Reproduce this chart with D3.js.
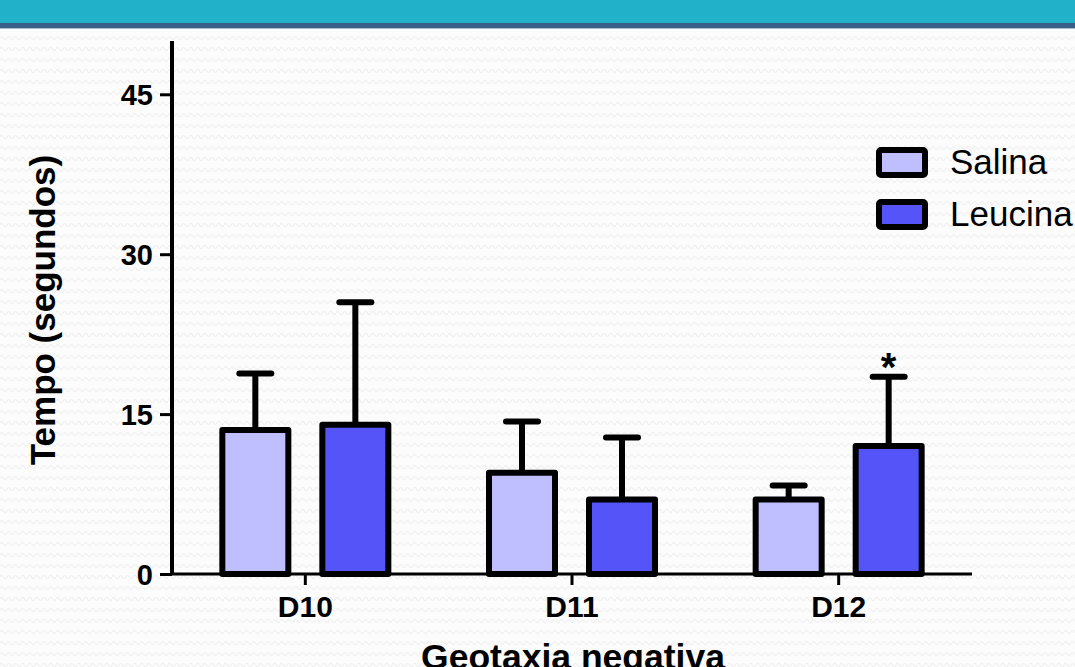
<!DOCTYPE html>
<html>
<head>
<meta charset="utf-8">
<script src="https://cdn.jsdelivr.net/npm/d3@7"></script>
<style>
  html, body { margin: 0; padding: 0; background: #fafafa; }
  svg { display: block; }
</style>
</head>
<body>
<svg id="chart" width="1075" height="667"></svg>
<script>
// Geotaxia negativa: climbing time per day, saline vs leucine
const days = ["D10", "D11", "D12"];
const groups = ["Salina", "Leucina"];
const salinaMean = [13.5, 9.5, 7.0];
const salinaErr  = [5.3, 4.8, 1.3];
const leucinaMean = [14.0, 7.0, 12.0];
const leucinaErr  = [11.5, 5.8, 6.5];
const yTicks = [0, 15, 30, 45];
const significance = ["", "", "*"]; // leucina vs salina
const colors = { Salina: "#bfbfff", Leucina: "#5454f8" };

const svg = d3.select("#chart");
const W = 1075, H = 667;
const FONT = "Liberation Sans, Arial, sans-serif";

// background texture and header band
const defs = svg.append("defs");
const pat = defs.append("pattern")
  .attr("id", "wave").attr("width", 7).attr("height", 11)
  .attr("patternUnits", "userSpaceOnUse");
pat.append("rect").attr("width", 7).attr("height", 11).attr("fill", "#fcfcfc");
pat.append("path").attr("d", "M0,5 Q1.75,2 3.5,5 T7,5")
  .attr("fill", "none").attr("stroke", "#efefef").attr("stroke-width", 1.2);
svg.append("rect").attr("width", W).attr("height", H).attr("fill", "url(#wave)");
svg.append("rect").attr("x", 0).attr("y", 0).attr("width", W).attr("height", 23).attr("fill", "#21b1c9");
svg.append("rect").attr("x", 0).attr("y", 23).attr("width", W).attr("height", 5).attr("fill", "#3a5f89");
svg.append("rect").attr("x", 0).attr("y", 28).attr("width", W).attr("height", 1).attr("fill", "#a8bccf");

const x0 = 172, x1 = 972, yBase = 574, yTop = 41;
const x = d3.scaleBand().domain(days).range([x0, x1]).padding(0);
const y = d3.scaleLinear().domain([0, 50]).range([yBase, yTop]);
const xg = d3.scaleBand().domain(groups).range([-83, 83]).paddingInner(0.34).paddingOuter(0);

const rows = days.map((d, i) => ({
  day: d,
  sig: significance[i],
  bars: [
    { g: "Salina", v: salinaMean[i], e: salinaErr[i] },
    { g: "Leucina", v: leucinaMean[i], e: leucinaErr[i] }
  ]
}));

const bw = xg.bandwidth();
const capW = 36;

const dayG = svg.append("g").selectAll("g").data(rows).join("g")
  .attr("transform", d => `translate(${x(d.day) + x.bandwidth() / 2},0)`);

const barG = dayG.selectAll("g.bar").data(d => d.bars).join("g").attr("class", "bar");

// error bars (upper only)
barG.append("line")
  .attr("x1", d => xg(d.g) + bw / 2).attr("x2", d => xg(d.g) + bw / 2)
  .attr("y1", d => y(d.v)).attr("y2", d => y(d.v + d.e))
  .attr("stroke", "#000").attr("stroke-width", 6);
barG.append("line")
  .attr("x1", d => xg(d.g) + bw / 2 - capW / 2 + 2).attr("x2", d => xg(d.g) + bw / 2 + capW / 2 - 2)
  .attr("y1", d => y(d.v + d.e)).attr("y2", d => y(d.v + d.e))
  .attr("stroke", "#000").attr("stroke-width", 6).attr("stroke-linecap", "round");

barG.append("rect")
  .attr("x", d => xg(d.g))
  .attr("y", d => y(d.v))
  .attr("width", bw)
  .attr("height", d => yBase - y(d.v))
  .attr("fill", d => colors[d.g])
  .attr("stroke", "#000").attr("stroke-width", 6).attr("stroke-linejoin", "round");

// significance marker above leucina error bar
dayG.filter(d => d.sig).append("text")
  .attr("x", d => xg("Leucina") + bw / 2)
  .attr("y", d => y(d.bars[1].v + d.bars[1].e) + 4)
  .attr("text-anchor", "middle")
  .attr("font-family", FONT)
  .attr("font-size", 40).attr("font-weight", "bold")
  .text(d => d.sig);

// y axis
const yAxis = svg.append("g").attr("transform", `translate(${x0},0)`)
  .call(d3.axisLeft(y).tickValues(yTicks).tickSize(12).tickPadding(7).tickSizeOuter(0));
yAxis.select(".domain").attr("stroke", "#000").attr("stroke-width", 4).attr("d", `M0,${yTop}V${yBase + 1}`);
yAxis.selectAll(".tick line").attr("stroke", "#000").attr("stroke-width", 3);
yAxis.selectAll(".tick text")
  .attr("font-family", FONT)
  .attr("font-size", 29).attr("font-weight", "bold").attr("fill", "#000")
  .attr("dy", "0.36em");

// x axis
const xAxis = svg.append("g").attr("transform", `translate(0,${yBase})`)
  .call(d3.axisBottom(x).tickSize(11).tickPadding(11).tickSizeOuter(0));
xAxis.select(".domain").attr("stroke", "#000").attr("stroke-width", 3).attr("d", `M${x0 - 2},0H${x1}`);
xAxis.selectAll(".tick line").attr("stroke", "#000").attr("stroke-width", 3);
xAxis.selectAll(".tick text")
  .attr("font-family", FONT)
  .attr("font-size", 30).attr("font-weight", "bold").attr("fill", "#000");

// axis titles
svg.append("text")
  .attr("x", 573).attr("y", 669)
  .attr("text-anchor", "middle")
  .attr("font-family", FONT)
  .attr("font-size", 35.5).attr("font-weight", "bold")
  .text("Geotaxia negativa");
svg.append("text")
  .attr("transform", "translate(55,310) rotate(-90)")
  .attr("text-anchor", "middle")
  .attr("font-family", FONT)
  .attr("font-size", 35).attr("font-weight", "bold")
  .text("Tempo (segundos)");

// legend
const legend = svg.append("g").attr("transform", "translate(879,150)");
const li = legend.selectAll("g").data(groups).join("g")
  .attr("transform", (d, i) => `translate(0,${i * 52})`);
li.append("rect").attr("x", 0).attr("y", 0).attr("width", 46).attr("height", 25)
  .attr("fill", d => colors[d]).attr("stroke", "#000").attr("stroke-width", 6)
  .attr("rx", 2);
li.append("text").attr("x", 71).attr("y", 24)
  .attr("font-family", FONT)
  .attr("font-size", 35).attr("fill", "#000")
  .text(d => d);
</script>
</body>
</html>
